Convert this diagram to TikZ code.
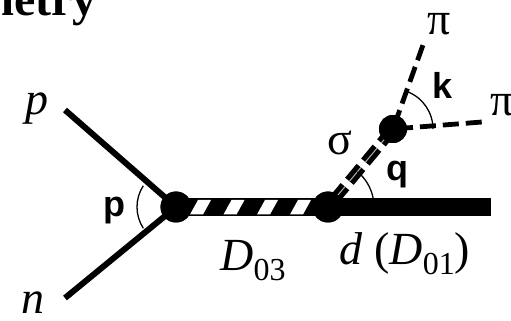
\documentclass[tikz,border=0pt]{standalone}
\usepackage{fontspec}
\setmainfont{Liberation Serif}
\setsansfont{Liberation Sans}
\usetikzlibrary{positioning, calc}
\newcommand{\subnum}[1]{\raisebox{-0.22em}{\fontsize{16}{18}\selectfont #1}}
\tikzset{
    vertex/.style={circle,fill,inner sep=0pt,minimum size=#1},
    lab/.style={font=\fontsize{23}{25}\selectfont},
    momlab/.style={font=\sffamily\bfseries\fontsize{18}{20}\selectfont},
    angarc/.style={line width=0.65pt},
    pion/.style={line width=2.4pt,dash pattern=on 8pt off 3.5pt,dash phase=9.5pt},
    sigmaline/.style={line width=5.6pt,dash pattern=on 9pt off 3.5pt,dash phase=8.25pt}
}
\begin{document}
\begin{tikzpicture}[x=0.5pt,y=-0.5pt]
    \useasboundingbox (0,0) rectangle (511,321);

    % Vertices
    \node[vertex=15.5pt] (vA) at (176,207) {};
    \node[vertex=15.5pt] (vB) at (328,207) {};
    \node[vertex=14pt] (vC) at (393,129) {};

    % Free ends
    \coordinate (pEnd) at (65,110);
    \coordinate (nEnd) at (65,298);
    \coordinate (dEnd) at (491,207);
    \coordinate (piTop) at (423,45);
    \coordinate (piRight) at (482,122);

    % Nucleons
    \draw[line width=3pt] (pEnd) -- (vA.center);
    \draw[line width=3pt] (nEnd) -- (vA.center);

    % Hatched dibaryon
    \draw[line width=9pt] (vA.center) -- (vB.center);
    \foreach \s in {190,223.5,257,290} \fill[white] (\s,214.5) -- ++(13,0) -- ++(8,-14.5) -- ++(-13,0) -- cycle;

    % Deuteron
    \draw[line width=9pt] (vB.center) -- (dEnd);

    % Sigma and pions
    \draw[sigmaline] (vB.center) -- (vC.center);
    \draw[sigmaline,line width=0.5pt,white!70!black] (vB.center) -- (vC.center);
    \draw[pion] (vC.center) -- (piTop);
    \draw[pion] (vC.center) -- (piRight);

    % Redraw vertices on top
    \fill (vA) circle (7.75pt);
    \fill (vB) circle (7.75pt);
    \fill (vC) circle (7pt);

    % Angle arcs
    \draw[angarc] ($(vA.center)+(147:19.5pt)$) arc[start angle=147,end angle=213,radius=19.5pt];
    \draw[angarc] ($(vB.center)+(11:23pt)$) arc[start angle=11,end angle=50,radius=23pt];
    \draw[angarc] ($(vC.center)+(0:20pt)$) arc[start angle=0,end angle=68,radius=20pt];

    % Labels
    \node[lab,anchor=base east,inner sep=0pt,font=\bfseries\fontsize{24}{26}\selectfont] (title) at (97,16) {metry};
    \node[lab] (pLab) at (37,109) {\textit{p}};
    \node[lab] (nLab) at (33,303) {\textit{n}};
    \node[lab] (piTopLab) at (439,24) {π};
    \node[lab] (piRightLab) at (502,105) {π};
    \node[lab] (sigmaLab) at (340,143) {σ};
    \node[momlab] (kLab) at (443,85) {k};
    \node[momlab] (qLab) at (397,175) {q};
    \node[momlab] (pAngLab) at (114,211) {p};
    \node[lab] (dibLab) at (253,261) {\textit{D}\subnum{03}};
    \node[lab] (deutLab) at (405,254) {\textit{d} (\textit{D}\subnum{01})};
\end{tikzpicture}
\end{document}
